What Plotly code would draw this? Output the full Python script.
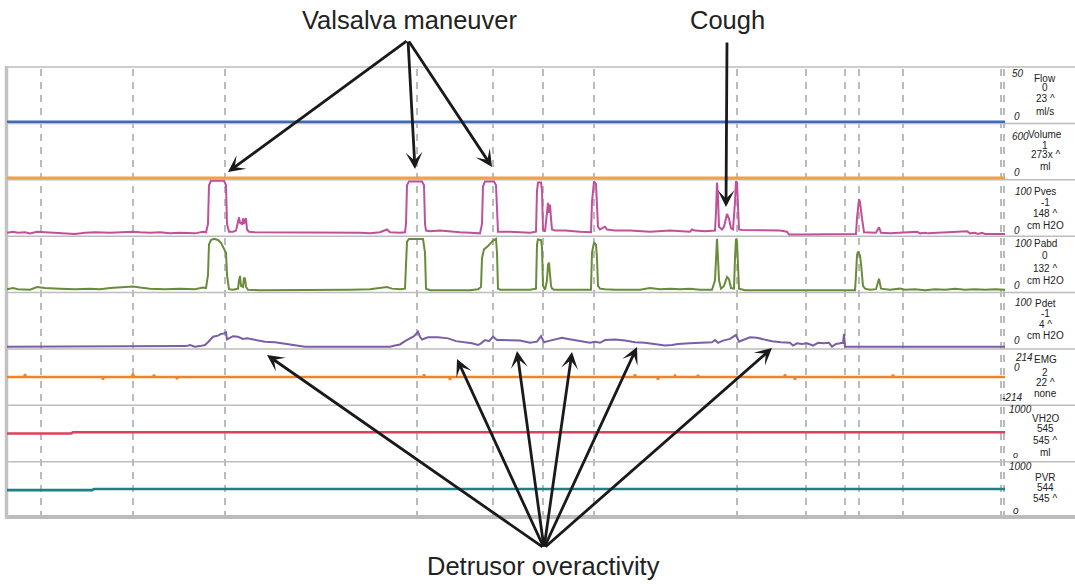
import plotly.graph_objects as go
from plotly.subplots import make_subplots

# ---------------- data (time axis in arbitrary trace units) ----------------
flow_t = [7, 1005]
flow = [0, 0]

vol_t = [7, 1005]
volume = [1, 1]

pves_t = [7, 13, 18, 25, 30, 37, 45, 60, 68, 75, 85, 95, 110, 125, 133, 140, 150, 160, 170, 180, 195, 203, 206,
          208, 209, 211, 224, 226, 227, 229, 233, 236, 238, 239, 240, 242, 243, 244, 245, 246, 247, 249, 255, 270,
          290, 300, 320, 330, 340, 350, 360, 370, 380, 387, 390, 400, 405, 406, 407, 409, 422, 424, 425, 426, 430,
          440, 450, 460, 470, 480, 482, 483, 485, 494, 496, 497, 498, 510, 520, 530, 536, 537, 538, 541, 542, 543,
          545, 547, 548, 549, 550, 551, 552, 555, 565, 580, 591, 592, 594, 596, 597, 598, 600, 605, 607, 615, 630,
          650, 670, 690, 692, 695, 705, 715, 716, 717, 718, 719, 722, 724, 727, 729, 731, 733, 735, 736, 737, 738,
          739, 742, 760, 780, 787, 789, 800, 820, 840, 850, 856, 857, 859, 860, 861, 862, 864, 870, 876, 879, 881,
          890, 917, 920, 925, 928, 967, 970, 975, 978, 982, 985, 998, 1005]
pves = [4, 6, 4, 5, 3, 6, 5, 4, 3, 2, 4, 5, 4, 6, 6, 5, 4, 5, 3, 4, 3, 6, 5,
        20, 90, 98, 98, 90, 20, 6, 6, 8, 25, 32, 22, 20, 30, 20, 28, 30, 10, 6, 5, 5,
        4, 4, 4, 5, 4, 4, 4, 3, 5, 10, 5, 4, 5, 20, 90, 97, 97, 90, 20, 8, 7,
        8, 6, 5, 4, 3, 20, 88, 97, 97, 90, 30, 6, 6, 5, 4, 6, 80, 95, 95, 80, 10,
        6, 40, 58, 40, 55, 30, 10, 8, 8, 6, 5, 60, 97, 92, 60, 15, 10, 15, 10, 8, 8,
        6, 8, 6, 10, 8, 7, 8, 40, 95, 70, 15, 10, 15, 38, 30, 12, 10, 60, 97, 95, 60,
        10, 9, 8, 8, 6, 1, 1, 1, 1, 1, 2, 30, 65, 60, 40, 30, 5, 4, 4, 14, 4,
        3, 6, 3, 4, 3, 7, 3, 4, 2, 4, 2, 2, 2]

pabd_t = [7, 13, 18, 25, 30, 37, 45, 60, 75, 90, 100, 110, 125, 133, 140, 150, 165, 180, 195, 203, 206,
          208, 209, 211, 214, 218, 221, 224, 226, 227, 229, 233, 238, 239, 240, 241, 243, 244, 245, 246, 248,
          260, 300, 330, 350, 370, 380, 387, 392, 400, 405, 406, 407, 409, 423, 425, 426, 430, 470, 478, 481,
          482, 484, 488, 493, 496, 497, 498, 500, 530, 536, 537, 538, 541, 542, 543, 545, 547, 548, 549, 550,
          551, 552, 554, 580, 591, 592, 594, 596, 597, 598, 600, 605, 615, 640, 650, 660, 670, 680, 690, 700,
          712, 715, 716, 717, 718, 719, 721, 724, 727, 729, 731, 734, 735, 736, 737, 738, 739, 745, 800, 855,
          856, 857, 858, 860, 861, 862, 863, 865, 870, 876, 879, 881, 890, 900, 905, 915, 925, 935, 945, 955,
          965, 975, 985, 995, 1005]
pabd = [4, 6, 4, 4, 3, 8, 6, 5, 4, 5, 4, 6, 8, 9, 7, 5, 4, 5, 4, 7, 6,
        30, 85, 93, 95, 93, 88, 76, 70, 30, 4, 3, 5, 20, 28, 10, 8, 25, 23, 8, 3,
        2, 2, 2, 3, 4, 6, 8, 5, 4, 5, 50, 90, 95, 95, 70, 5, 2, 2, 4, 8,
        60, 76, 82, 92, 95, 70, 5, 3, 3, 5, 85, 94, 93, 80, 10, 3, 20, 48, 52, 30,
        10, 5, 3, 3, 3, 70, 88, 85, 60, 10, 5, 4, 3, 3, 6, 4, 5, 4, 5, 3,
        3, 20, 75, 95, 60, 20, 5, 10, 26, 22, 6, 5, 60, 95, 90, 55, 5, 2, 2, 2,
        30, 65, 72, 65, 50, 30, 10, 5, 3, 4, 23, 5, 3, 5, 3, 4, 2, 4, 3, 5,
        3, 4, 3, 4, 3]

pdet_t = [7, 180, 186, 190, 195, 200, 205, 208, 213, 218, 221, 224, 226, 227, 230, 233, 238, 243, 247, 252, 257,
          265, 275, 285, 295, 305, 360, 380, 390, 395, 400, 405, 410, 414, 418, 420, 422, 428, 438, 448, 456, 465,
          472, 478, 481, 485, 489, 493, 497, 502, 510, 520, 530, 537, 541, 544, 548, 555, 562, 568, 575, 585, 590,
          595, 600, 605, 615, 625, 635, 645, 655, 665, 672, 678, 690, 700, 712, 715, 718, 723, 730, 736, 739, 743,
          750, 757, 765, 772, 781, 790, 793, 797, 802, 807, 813, 818, 824, 829, 832, 836, 840, 843, 844, 845, 1005]
pdet = [2, 2, 3, 5, 2, 3, 5, 10, 20, 22, 25, 26, 28, 15, 18, 21, 20, 16, 17, 15, 13,
        11, 10, 7, 4, 2, 2, 2, 2, 4, 6, 12, 17, 21, 29, 20, 15, 19, 19, 17, 12, 10,
        8, 5, 8, 14, 12, 20, 14, 14, 14, 13, 9, 11, 21, 10, 12, 15, 18, 16, 14, 11, 9,
        11, 9, 14, 15, 13, 10, 9, 7, 4, 5, 7, 8, 9, 10, 14, 9, 13, 16, 23, 11, 14,
        19, 18, 15, 12, 10, 9, 4, 8, 7, 8, 4, 9, 8, 9, 2, 7, 8, 9, 25, 2, 2]

emg_t = [7, 24, 25, 26, 102, 103, 104, 132, 133, 134, 153, 154, 155, 176, 177, 178, 423, 424, 425, 449, 450, 451,
         634, 635, 636, 657, 658, 659, 674, 675, 676, 697, 698, 699, 784, 785, 786, 794, 795, 796, 892, 893, 894, 1005]
emg = [1, 1, 22, 1, 1, -18, 1, 1, 26, 1, 1, 18, 1, 1, -15, 1, 1, 20, 1, 1, -22, 1,
       1, 20, 1, 1, -18, 1, 1, 12, 1, 1, 15, 1, 1, 20, 1, 1, -20, 1, 1, 18, 1, 1]

vh2o_t = [7, 71, 73, 1005]
vh2o = [500, 500, 522, 522]

pvr_t = [7, 92, 94, 1005]
pvr = [495, 495, 514, 514]

event_t = [41, 133, 225, 417, 493, 543, 594, 737, 806, 845, 859, 903, 1001, 1004]

channels = ["Flow", "Volume", "Pves", "Pabd", "Pdet", "EMG", "VH2O", "PVR"]
cur_vals = ["0", "1", "-1", "0", "-1", "2", "545", "544"]
max_vals = ["23 ^", "273x ^", "148 ^", "132 ^", "4 ^", "22 ^", "545 ^", "545 ^"]
units = ["ml/s", "ml", "cm H2O", "cm H2O", "cm H2O", "none", "ml", ""]
scale_top = ["50", "600", "100", "100", "100", "214", "1000", "1000"]
scale_bot = ["0", "0", "0", "0", "0", "-214", "o", "o"]
y_ranges = [[-1.5, 50], [-20, 600], [-2, 100], [-2, 100], [-2, 100], [-214, 214], [0, 1000], [0, 1000]]
colors = ["#3d6bb4", "#f4a043", "#c14f9c", "#688c3a", "#7a5ea6", "#f28425", "#de3f5f", "#1f7f82"]
widths = [2.6, 2.6, 2.0, 2.0, 2.0, 2.4, 2.6, 2.6]

series = [(flow_t, flow), (vol_t, volume), (pves_t, pves), (pabd_t, pabd), (pdet_t, pdet),
          (emg_t, emg), (vh2o_t, vh2o), (pvr_t, pvr)]

# ---------------- layout geometry ----------------
W, H = 1075, 584
L, R, T, B = 7, 70, 67, 66
PW, PH = W - L - R, H - T - B


def pxp(x):
    return (x - L) / PW


def pyp(y):
    return (H - B - y) / PH


fig = make_subplots(rows=8, cols=1, shared_xaxes=True, vertical_spacing=0)

for i, (t, v) in enumerate(series):
    fig.add_trace(go.Scatter(x=t, y=v, mode="lines", line=dict(color=colors[i], width=widths[i]),
                             name=channels[i], hoverinfo="skip"), row=i + 1, col=1)
    fig.update_yaxes(range=y_ranges[i], row=i + 1, col=1, showticklabels=False, showgrid=False,
                     zeroline=False, showline=False, ticks="", fixedrange=True)

fig.update_xaxes(range=[7, 1005], showticklabels=False, showgrid=False, zeroline=False, showline=False, ticks="")

shapes = []
# event markers (dashed)
for e in event_t:
    shapes.append(dict(type="line", xref="x", yref="paper", x0=e, x1=e, y0=0, y1=1,
                       line=dict(color="#ababab", width=1.6, dash="7px,6px"), layer="below"))
# row separators
xr = pxp(W)
for k in range(1, 9):
    shapes.append(dict(type="line", xref="paper", yref="paper", x0=0, x1=xr, y0=k / 8, y1=k / 8,
                       line=dict(color="#bdbdbd", width=1.5), layer="below"))
# bottom and left frame
shapes.append(dict(type="line", xref="paper", yref="paper", x0=pxp(5), x1=xr, y0=pyp(517), y1=pyp(517),
                   line=dict(color="#bcbcbc", width=4), layer="below"))
shapes.append(dict(type="line", xref="paper", yref="paper", x0=pxp(6.5), x1=pxp(6.5), y0=pyp(519), y1=pyp(66),
                   line=dict(color="#c2c2c2", width=3.5), layer="below"))

ann = []
FONT = "Liberation Sans, Arial, Helvetica, sans-serif"
name_y = [78, 134, 191, 243, 303, 359, 418, 477]
cur_y = [88, 145, 202, 255, 313, 372, 428, 487]
max_y = [99, 155, 213, 268, 324, 382, 440, 498]
unit_y = [112, 166, 225, 280, 335, 393, 452, 510]
top_y = [73, 136, 191, 243, 302, 357, 409, 466]
bot_y = [116, 172, 230, 285, 340, 397, 455, 510]
top_x = [1010, 1010, 1013, 1013, 1013, 1013, 1007, 1007]
bot_x = [1012, 1012, 1012, 1012, 1012, 1000, 1011, 1011]
for i in range(8):
    for txt, yy in [(channels[i], name_y[i]), (cur_vals[i], cur_y[i]), (max_vals[i], max_y[i]), (units[i], unit_y[i])]:
        if txt:
            ann.append(dict(x=pxp(1045), y=pyp(yy), xref="paper", yref="paper", text=txt, showarrow=False,
                            xanchor="center", yanchor="middle", font=dict(family=FONT, size=10, color="#222")))
    ann.append(dict(x=pxp(top_x[i]), y=pyp(top_y[i]), xref="paper", yref="paper",
                    text="<i>" + scale_top[i] + "</i>", showarrow=False, xanchor="left", yanchor="middle",
                    font=dict(family=FONT, size=10, color="#222")))
    ann.append(dict(x=pxp(bot_x[i]), y=pyp(bot_y[i]), xref="paper", yref="paper",
                    text="<i>" + scale_bot[i] + "</i>", showarrow=False, xanchor="left", yanchor="middle",
                    font=dict(family=FONT, size=10 if i != 6 else 9, color="#222")))
ann.append(dict(x=pxp(1012), y=pyp(367), xref="paper", yref="paper", text="<i>0</i>", showarrow=False,
                xanchor="left", yanchor="middle", font=dict(family=FONT, size=10, color="#222")))

# headline labels
ann.append(dict(x=pxp(409), y=pyp(20), xref="paper", yref="paper", text="Valsalva maneuver", showarrow=False,
                xanchor="center", yanchor="middle", font=dict(family=FONT, size=25.5, color="#222")))
ann.append(dict(x=pxp(727), y=pyp(20), xref="paper", yref="paper", text="Cough", showarrow=False,
                xanchor="center", yanchor="middle", font=dict(family=FONT, size=25.5, color="#222")))
ann.append(dict(x=pxp(543), y=pyp(566), xref="paper", yref="paper", text="Detrusor overactivity", showarrow=False,
                xanchor="center", yanchor="middle", font=dict(family=FONT, size=25.5, color="#222")))


def arrow(tip, tail):
    return dict(x=pxp(tip[0]), y=pyp(tip[1]), xref="paper", yref="paper", text="", showarrow=True,
                ax=tail[0] - tip[0], ay=tail[1] - tip[1], arrowhead=3, arrowsize=1.0, arrowwidth=2.8,
                arrowcolor="#1a1a1a", standoff=0, startstandoff=0)


for tip in [(228, 172), (415, 169), (492, 167)]:
    ann.append(arrow(tip, (408, 40)))
ann.append(arrow((726, 207), (727, 41)))
for tip in [(267, 355), (457, 359), (517, 351), (572, 352), (637, 347), (772, 348)]:
    ann.append(arrow(tip, (544, 548)))

fig.update_layout(width=W, height=H, margin=dict(l=L, r=R, t=T, b=B), paper_bgcolor="white",
                  plot_bgcolor="white", showlegend=False, shapes=shapes, annotations=ann)

fig.write_html("out.html")
